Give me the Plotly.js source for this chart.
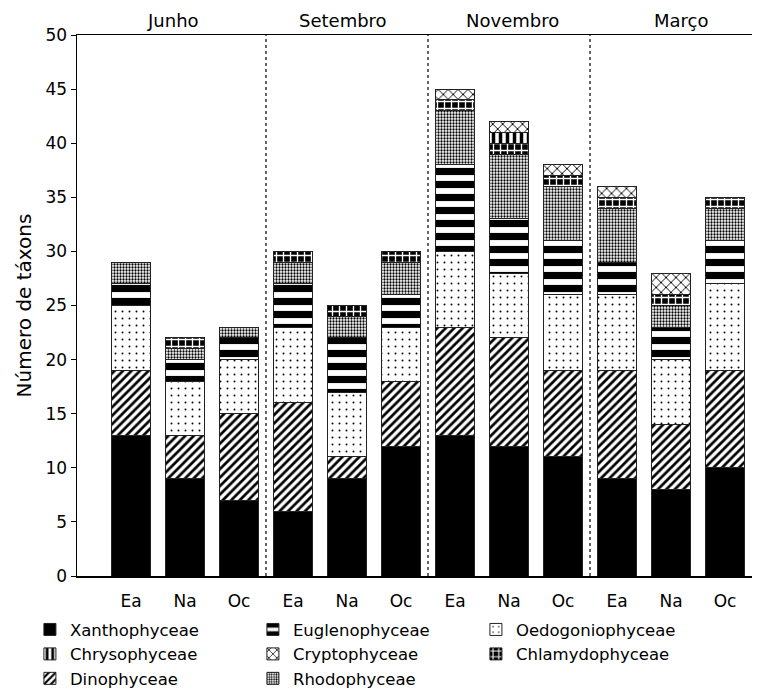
<!DOCTYPE html>
<html>
<head>
<meta charset="utf-8">
<script src="https://cdn.plot.ly/plotly-3.0.1.min.js"></script>
<style>html,body{margin:0;padding:0;background:#fff}#chart{width:767px;height:691px}</style>
</head>
<body>
<div id="chart"></div>
<script>
// Categories
const months = ["Junho", "Setembro", "Novembro", "Março"];
const sites = ["Ea", "Na", "Oc"];

// Series values (order: Junho Ea,Na,Oc; Setembro Ea,Na,Oc; Novembro Ea,Na,Oc; Março Ea,Na,Oc)
const xanthophyceae    = [13, 9, 7, 6, 9, 12, 13, 12, 11, 9, 8, 10];
const dinophyceae      = [6, 4, 8, 10, 2, 6, 10, 10, 8, 10, 6, 9];
const oedogoniophyceae = [6, 5, 5, 7, 6, 5, 7, 6, 7, 7, 6, 8];
const euglenophyceae   = [2, 2, 2, 4, 5, 3, 8, 5, 5, 3, 3, 4];
const rhodophyceae     = [2, 1, 1, 2, 2, 3, 5, 6, 5, 5, 2, 3];
const chlamydophyceae  = [0, 1, 0, 1, 1, 1, 1, 1, 1, 1, 1, 1];
const chrysophyceae    = [0, 0, 0, 0, 0, 0, 0, 1, 0, 0, 0, 0];
const cryptophyceae    = [0, 0, 0, 0, 0, 0, 1, 1, 1, 1, 2, 0];

const yTicks = [0, 5, 10, 15, 20, 25, 30, 35, 40, 45, 50];

const xPos = [];
const xText = [];
months.forEach((m, i) => sites.forEach((s, j) => { xPos.push(i * sites.length + j); xText.push(s); }));

const FONT = "DejaVu Sans";
const lineSpec = {color: "#222", width: 1};

function trace(name, y, pattern, color, rank) {
  const marker = {color: color, line: lineSpec};
  if (pattern) marker.pattern = pattern;
  return {type: "bar", name: name, x: xPos, y: y, marker: marker, legendrank: rank, hoverinfo: "skip"};
}

const data = [
  trace("Xanthophyceae", xanthophyceae, null, "black", 1),
  trace("Dinophyceae", dinophyceae, {shape: "/", fgcolor: "black", bgcolor: "white", size: 6, solidity: 0.45, fillmode: "replace"}, "white", 7),
  trace("Oedogoniophyceae", oedogoniophyceae, {shape: ".", fgcolor: "black", bgcolor: "white", size: 7, solidity: 0.06, fillmode: "replace"}, "white", 3),
  trace("Euglenophyceae", euglenophyceae, {shape: "-", fgcolor: "black", bgcolor: "white", size: 13, solidity: 0.55, fillmode: "replace"}, "white", 2),
  trace("Rhodophyceae", rhodophyceae, {shape: ".", fgcolor: "black", bgcolor: "white", size: 3, solidity: 0.45, fillmode: "replace"}, "white", 8),
  trace("Chlamydophyceae", chlamydophyceae, {shape: "+", fgcolor: "white", bgcolor: "black", size: 7, solidity: 0.35, fillmode: "replace"}, "black", 6),
  trace("Chrysophyceae", chrysophyceae, {shape: "|", fgcolor: "black", bgcolor: "white", size: 7, solidity: 0.5, fillmode: "replace"}, "white", 4),
  trace("Cryptophyceae", cryptophyceae, {shape: "x", fgcolor: "black", bgcolor: "white", size: 7, solidity: 0.25, fillmode: "replace"}, "white", 5)
];

const shapes = [2.5, 5.5, 8.5].map(v => ({
  type: "line", xref: "x", yref: "paper", x0: v, x1: v, y0: 0, y1: 1,
  line: {color: "#333", width: 1.5, dash: "dot"}
}));

const monthX = [0.77, 3.93, 7.06, 10.19];
const annotations = months.map((m, i) => ({
  text: m, x: monthX[i], xref: "x", y: 1, yref: "paper", yanchor: "bottom", yshift: 2,
  showarrow: false, font: {family: FONT, size: 18, color: "black"}
}));

const layout = {
  width: 767, height: 691,
  margin: {l: 77, r: 15, t: 35, b: 115},
  paper_bgcolor: "white", plot_bgcolor: "white",
  barmode: "stack", bargap: 0.29,
  font: {family: FONT, size: 17, color: "black"},
  showlegend: true,
  xaxis: {
    range: [-1, 11.5], tickvals: xPos, ticktext: xText, showgrid: false, zeroline: false,
    showline: true, mirror: true, linecolor: "black", linewidth: 1.5, ticks: "",
    ticklabelstandoff: 9,
    tickfont: {family: FONT, size: 17}, automargin: false
  },
  yaxis: {
    range: [0, 50], tickvals: yTicks, showgrid: false, zeroline: false,
    showline: true, linecolor: "black", linewidth: 1.5, ticks: "outside", ticklen: 5, tickcolor: "black",
    tickfont: {family: FONT, size: 17}, automargin: false,
    title: {text: "Número de táxons", font: {family: FONT, size: 20}, standoff: 8}
  },
  legend: {
    orientation: "h", xref: "container", x: 0.039, xanchor: "left", yref: "container", y: 0.114, yanchor: "top",
    entrywidth: 178, entrywidthmode: "pixels", traceorder: "normal",
    font: {family: FONT, size: 16.5, color: "black"}, bgcolor: "rgba(0,0,0,0)"
  },
  shapes: shapes,
  annotations: annotations
};

Plotly.newPlot("chart", data, layout, {displayModeBar: false, staticPlot: true});
</script>
</body>
</html>
